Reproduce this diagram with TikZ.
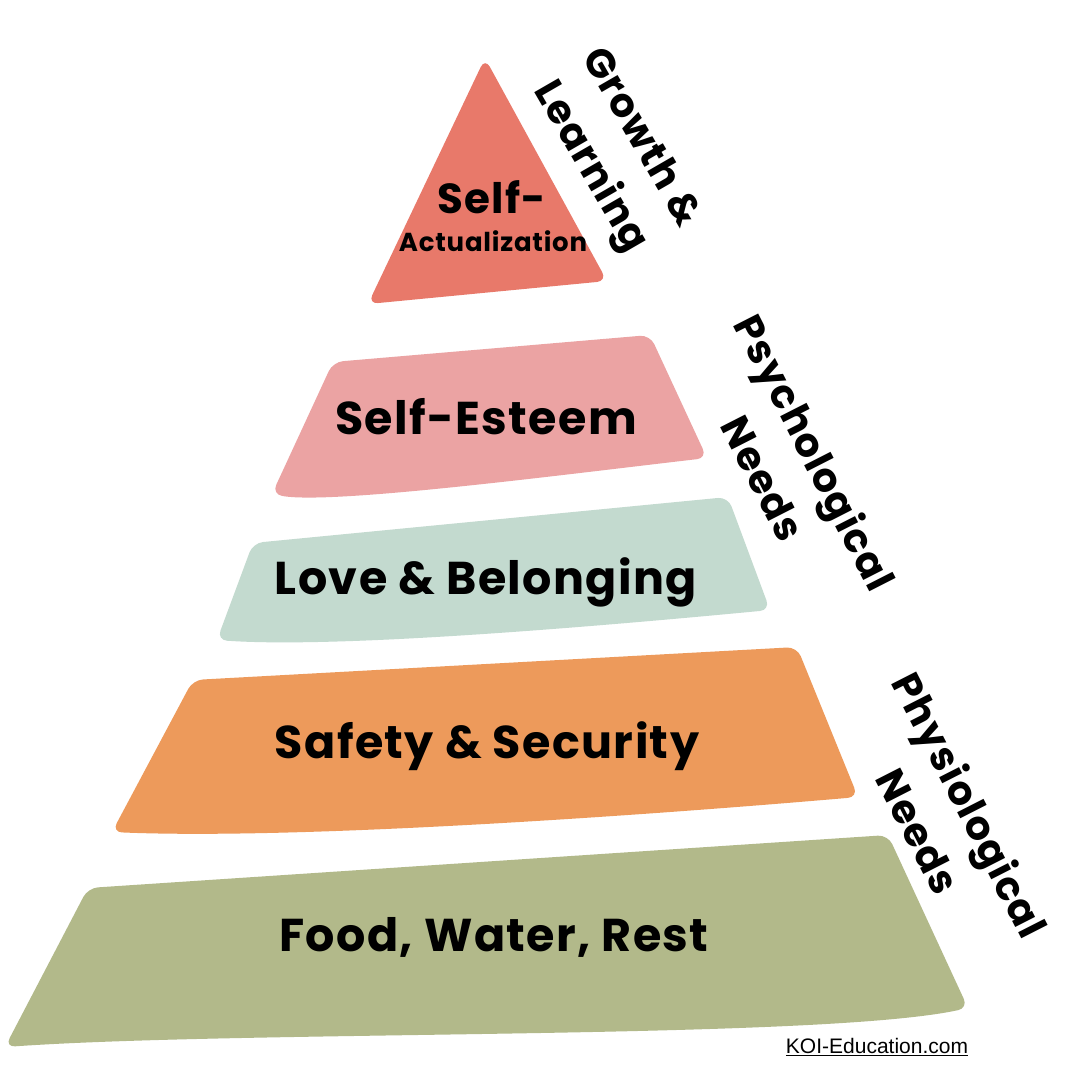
\documentclass[tikz,border=0pt]{standalone}
\usepackage{fontspec}
\usepackage{xcolor}
\usepackage{tikz}
\newfontfamily\handfont{Poppins}[LetterSpace=3]
\newfontfamily\webfont{Liberation Sans}
\definecolor{topred}{HTML}{E8796A}
\definecolor{esteempink}{HTML}{EBA3A3}
\definecolor{lovemint}{HTML}{C3DACF}
\definecolor{safeorange}{HTML}{ED9A5B}
\definecolor{foodolive}{HTML}{B2B98A}
\tikzstyle{band}=[rounded corners=10pt,draw=none]
\tikzstyle{lvl}=[font=\handfont\bfseries\fontsize{46}{48}\selectfont,inner sep=0pt]
\tikzstyle{side}=[font=\handfont\bfseries\fontsize{40}{58}\selectfont,align=center,inner sep=0pt]

\begin{document}
\begin{tikzpicture}[x=1pt,y=-1pt]
	\useasboundingbox[fill=white] (0,0) rectangle (1080,1080);
	\fill[band,topred]     (485,58) -- (607,281) -- (368,304) -- cycle;
	\fill[band,esteempink] (333,362) -- (650,335) -- (707,458) .. controls (560,475) and (330,505) .. (272,494) -- cycle;
	\fill[band,lovemint]   (253,543) -- (728,497) -- (770,610) .. controls (560,630) and (330,648) .. (217,640) -- cycle;
	\fill[band,safeorange] (193,680) -- (797,647) -- (858,797) .. controls (650,815) and (300,840) .. (112,832) -- cycle;
	\fill[band,foodolive]  (88,888) -- (888,835) -- (968,1008) .. controls (820,1040) and (250,1030) .. (5,1047) -- cycle;
	\node[lvl,font=\handfont\bfseries\fontsize{42}{44}\selectfont] (self) at (492,197) {Self-};
	\node[lvl,font=\handfont\bfseries\fontsize{26}{28}\selectfont] (actual) at (493,241) {Actualization};
	\node[lvl] (esteem) at (486,417) {Self-Esteem};
	\node[lvl] (love)   at (486,582) {Love \& Belonging};
	\node[lvl] (safety) at (487,746) {Safety \& Security};
	\node[lvl] (food)   at (494,937) {Food, Water, Rest};
	\node[side,rotate=-60] (growth) at (614,153) {Growth \&\\Learning};
	\node[side,rotate=-63] (psych)  at (790,465) {Psychological\\Needs};
	\node[side,rotate=-63] (physio) at (945,818) {Physiological\\Needs};
	\node[font=\webfont\fontsize{21}{23}\selectfont,inner sep=0pt] (site) at (877,1047) {\underline{KOI-Education.com}};
\end{tikzpicture}
\end{document}
